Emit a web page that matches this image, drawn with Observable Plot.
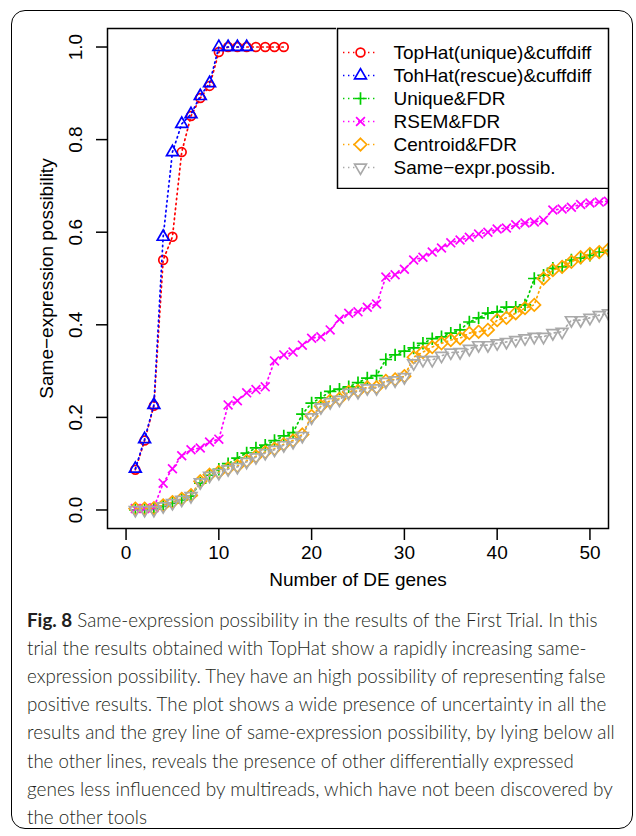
<!DOCTYPE html>
<html><head><meta charset="utf-8">
<script src="https://cdn.jsdelivr.net/npm/d3@7"></script>
<script src="https://cdn.jsdelivr.net/npm/@observablehq/plot@0.6"></script>
<style>
html,body{margin:0;padding:0;background:#fff;}
#page{position:relative;width:636px;height:836px;overflow:hidden;background:#fff;}
#frame{position:absolute;left:11px;top:10px;width:622px;height:819px;border:1.5px solid #000;border-radius:14px;box-sizing:border-box;pointer-events:none;}
#chart{position:absolute;left:0;top:0;}
#legend{position:absolute;left:336px;top:27px;}
#cap{position:absolute;left:0;top:596px;}
</style>
</head><body>
<div id="page">
  <div id="chart"></div>
  <div id="legend"></div>
  <svg id="cap" width="636" height="240" xmlns="http://www.w3.org/2000/svg"></svg>
  <div id="frame"></div>
</div>
<script>
// ---------------- data ----------------
const genes = [1,2,3,4,5,6,7,8,9,10,11,12,13,14,15,16,17,18,19,20,21,22,23,24,25,26,27,28,29,30,31,32,33,34,35,36,37,38,39,40,41,42,43,44,45,46,47,48,49,50,51,52];
const topHatUnique = [0.087,0.150,0.225,0.540,0.590,0.773,0.851,0.890,0.916,0.989,1,1,1,1,1,1,1];
const topHatRescue = [0.089,0.153,0.227,0.590,0.773,0.834,0.855,0.894,0.922,1,1,1,1];
const uniqueFDR = [0.000,0.000,0.002,0.008,0.015,0.022,0.030,0.058,0.075,0.088,0.100,0.112,0.123,0.134,0.140,0.150,0.160,0.167,0.207,0.231,0.242,0.256,0.261,0.266,0.275,0.285,0.290,0.325,0.335,0.343,0.350,0.360,0.370,0.374,0.382,0.389,0.406,0.415,0.425,0.428,0.438,0.438,0.443,0.500,0.507,0.522,0.525,0.540,0.544,0.550,0.557,0.560];
const rsemFDR = [0.003,0.003,0.005,0.058,0.089,0.117,0.130,0.134,0.147,0.153,0.227,0.236,0.253,0.260,0.266,0.322,0.335,0.341,0.356,0.371,0.374,0.389,0.412,0.425,0.428,0.438,0.445,0.503,0.508,0.520,0.540,0.546,0.557,0.566,0.577,0.583,0.589,0.596,0.600,0.607,0.609,0.616,0.620,0.622,0.626,0.648,0.650,0.654,0.660,0.663,0.665,0.667];
const centroidFDR = [0.003,0.003,0.004,0.010,0.017,0.024,0.032,0.062,0.076,0.082,0.090,0.095,0.106,0.116,0.125,0.132,0.142,0.150,0.163,0.203,0.224,0.236,0.240,0.255,0.257,0.265,0.265,0.279,0.282,0.289,0.330,0.341,0.352,0.360,0.367,0.371,0.382,0.385,0.389,0.410,0.415,0.425,0.436,0.443,0.500,0.518,0.525,0.536,0.546,0.553,0.557,0.563];
const sameExpr = [0.000,0.000,0.000,0.008,0.015,0.022,0.030,0.060,0.074,0.080,0.088,0.093,0.104,0.114,0.123,0.130,0.140,0.147,0.160,0.200,0.222,0.233,0.238,0.253,0.255,0.263,0.263,0.277,0.280,0.287,0.317,0.324,0.324,0.333,0.340,0.341,0.348,0.356,0.356,0.360,0.363,0.367,0.371,0.374,0.374,0.382,0.385,0.410,0.410,0.415,0.421,0.425];
const seriesNames = ["TopHat(unique)&cuffdiff","TohHat(rescue)&cuffdiff","Unique&FDR","RSEM&FDR","Centroid&FDR","Same\u2212expr.possib."];
const seriesColors = ["#FF0000","#0000FF","#00CD00","#FF00FF","#FFA500","#A9A9A9"];
const xTicks = [0,10,20,30,40,50];
const yTicks = [0,0.2,0.4,0.6,0.8,1.0];
const xLabel = "Number of DE genes";
const yLabel = "Same\u2212expression possibility";
const captionBold = "Fig. 8";
const captionLines = [
  " Same-expression possibility in the results of the First Trial. In this",
  "trial the results obtained with TopHat show a rapidly increasing same-",
  "expression possibility. They have an high possibility of representing false",
  "positive results. The plot shows a wide presence of uncertainty in all the",
  "results and the grey line of same-expression possibility, by lying below all",
  "the other lines, reveals the presence of other differentially expressed",
  "genes less influenced by multireads, which have not been discovered by",
  "the other tools"
];

// ---------------- symbols (R pch 1..6) ----------------
const K = s => Math.sqrt(s/Math.PI);
const symCircle = {draw(c,s){const r=K(s); c.moveTo(r,0); c.arc(0,0,r,0,2*Math.PI);}};
const symTri = {draw(c,s){const r=K(s); c.moveTo(0,-1.5551*r); c.lineTo(1.3468*r,0.7776*r); c.lineTo(-1.3468*r,0.7776*r); c.closePath();}};
const symPlus = {draw(c,s){const r=K(s)*1.4142; c.moveTo(-r,0); c.lineTo(r,0); c.moveTo(0,-r); c.lineTo(0,r);}};
const symTimes = {draw(c,s){const r=K(s); c.moveTo(-r,-r); c.lineTo(r,r); c.moveTo(-r,r); c.lineTo(r,-r);}};
const symDiamond = {draw(c,s){const r=K(s)*1.4142; c.moveTo(0,-r); c.lineTo(r,0); c.lineTo(0,r); c.lineTo(-r,0); c.closePath();}};
const symTriDown = {draw(c,s){const r=K(s); c.moveTo(0,1.5551*r); c.lineTo(1.3468*r,-0.7776*r); c.lineTo(-1.3468*r,-0.7776*r); c.closePath();}};
const symbols = [symCircle, symTri, symPlus, symTimes, symDiamond, symTriDown];

const seriesValues = [topHatUnique, topHatRescue, uniqueFDR, rsemFDR, centroidFDR, sameExpr];
const R = 4.4, SW = 1.7, DASH = "1.4,3.6";
const FONT = "'Liberation Sans', Arial, Helvetica, sans-serif";

const seriesMarks = [];
seriesValues.forEach((vals, k) => {
  const rows = vals.map((v, i) => ({x: genes[i], y: v}));
  seriesMarks.push(Plot.line(rows, {x: "x", y: "y", stroke: seriesColors[k], strokeWidth: SW, strokeDasharray: DASH, clip: true}));
  seriesMarks.push(Plot.dot(rows, {x: "x", y: "y", stroke: seriesColors[k], fill: "none", r: R, strokeWidth: SW, symbol: symbols[k], clip: true}));
});

const chart = Plot.plot({
  width: 636, height: 600,
  marginLeft: 107, marginRight: 28, marginTop: 28, marginBottom: 72,
  x: {domain: [-2, 52]},
  y: {domain: [-0.04, 1.04]},
  style: {fontFamily: FONT, fontSize: "19px", background: "white", color: "black"},
  marks: [
    ...seriesMarks,
    Plot.frame({stroke: "black", strokeWidth: 1.5}),
    Plot.axisX({ticks: xTicks, tickSize: 12, tickPadding: 5, tickFormat: d => String(d), fontSize: 19, label: null, strokeWidth: 1.5}),
    Plot.axisY({ticks: yTicks, tickSize: 11, tickFormat: () => "", label: null, strokeWidth: 1.5}),
    Plot.text(yTicks, {y: d => d, text: d => d.toFixed(1), frameAnchor: "left", textAnchor: "middle", dx: -32, rotate: -90, fontSize: 19}),
    Plot.text([xLabel], {frameAnchor: "bottom", textAnchor: "middle", dy: 57, fontSize: 19}),
    Plot.text([yLabel], {frameAnchor: "left", textAnchor: "middle", dx: -61, rotate: -90, fontSize: 19})
  ]
});
document.getElementById("chart").appendChild(chart);

// ---------------- legend ----------------
const legendRows = seriesNames.map((name, k) => ({name, k, color: seriesColors[k]}));
const LROW0 = 25, LSTEP = 23;
const legend = Plot.plot({
  width: 273, height: 162, margin: 0,
  x: {type: "identity", axis: null}, y: {type: "identity", axis: null},
  style: {fontFamily: FONT, fontSize: "19px", background: "white", color: "black"},
  marks: [
    Plot.frame({stroke: "black", strokeWidth: 1.5, inset: 1}),
    Plot.ruleY(legendRows, {y: d => LROW0 + LSTEP*d.k, x1: 7, x2: 41, stroke: "color", strokeWidth: SW, strokeDasharray: DASH}),
    ...legendRows.map(d => Plot.dot([d], {x: () => 24, y: () => LROW0 + LSTEP*d.k, stroke: d.color, fill: "white", r: R, strokeWidth: SW, symbol: symbols[d.k]})),
    Plot.text(legendRows, {x: () => 57, y: d => LROW0 + LSTEP*d.k, text: "name", textAnchor: "start", fontSize: 19})
  ]
});
document.getElementById("legend").appendChild(legend);

// ---------------- caption ----------------
const NS = "http://www.w3.org/2000/svg";
const cap = document.getElementById("cap");
const capWidths = [571, 560, 579, 580, 588, 547, 586, 120];
const capBase0 = 31, capStep = 28.1;
captionLines.forEach((line, i) => {
  const t = document.createElementNS(NS, "text");
  t.setAttribute("x", 0);
  t.setAttribute("y", 0);
  t.setAttribute("font-family", "Lato, 'Open Sans', sans-serif");
  t.setAttribute("font-weight", "300");
  t.setAttribute("font-size", "19.5");
  t.setAttribute("fill", "#231f20");
  if (i === 0) {
    const b = document.createElementNS(NS, "tspan");
    b.setAttribute("font-weight", "bold");
    b.textContent = captionBold;
    t.appendChild(b);
    const r = document.createElementNS(NS, "tspan");
    r.textContent = line;
    t.appendChild(r);
  } else {
    t.textContent = line;
  }
  cap.appendChild(t);
  const natural = t.getComputedTextLength();
  const s = capWidths[i] / natural;
  t.setAttribute("transform", `translate(27,${capBase0 + i*capStep}) scale(${s},1)`);
});
</script>
</body></html>
